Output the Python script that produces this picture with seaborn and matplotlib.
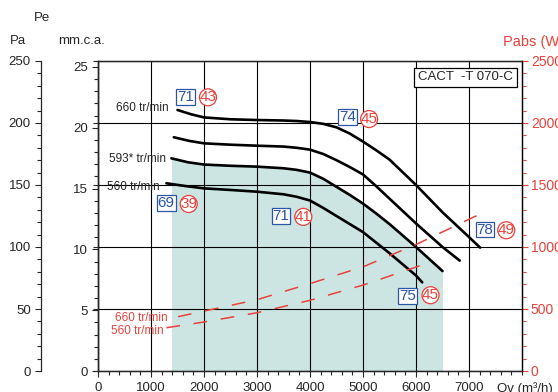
import pandas as pd
import matplotlib
matplotlib.use('Agg')
import matplotlib.pyplot as plt
from matplotlib.ticker import MultipleLocator
import seaborn as sns

# --- courbes débit / pression (Qv en m3/h, Pe en Pa) ---
qv_660 = [1500, 1760, 2000, 2500, 3000, 3500, 3750, 4000, 4250, 4500, 4750, 5000,
          5250, 5500, 6000, 6500, 7000, 7210]
pe_660 = [210.5, 207, 204.5, 203, 202.4, 202, 201.6, 200.8, 199.3, 196.5, 191.5, 185,
          178, 170.5, 150, 128, 108, 99.5]

qv_630 = [1430, 1730, 2000, 2500, 3000, 3500, 3750, 4000, 4250, 4500, 4750, 5000,
          5250, 5500, 6000, 6500, 6825]
pe_630 = [188.5, 185.5, 183.6, 182.5, 181.7, 181, 180, 178.5, 175, 170, 164.5, 158.5,
          149, 139, 119, 100, 89]

qv_593 = [1385, 1700, 2000, 2500, 3000, 3500, 3750, 4000, 4250, 4500, 4750, 5000,
          5250, 5500, 6000, 6500]
pe_593 = [171.5, 168.3, 166.5, 165.5, 164.8, 163.5, 162.2, 160, 155, 148.5, 142, 135,
          127, 118.5, 100, 80.6]

qv_560 = [1290, 1640, 2000, 2500, 3000, 3500, 3750, 4000, 4250, 4500, 4750, 5000,
          5250, 5500, 6000, 6117]
pe_560 = [151.4, 149.2, 147.3, 146, 144.6, 142.5, 140.5, 137.5, 131.5, 125, 118.5, 112,
          103.5, 95, 77, 71.5]

# --- puissance absorbée (W) ---
qv_w660 = [1510, 2000, 3000, 4000, 5000, 6000, 7210]
w_660 = [438, 483, 575, 705, 840, 1020, 1266]
qv_w560 = [1290, 2000, 3000, 4000, 5000, 6117]
w_560 = [349, 395, 470, 570, 693, 855]

# --- repères (dB(A) en carré bleu / puissance en cercle rouge) ---
box_labels = ['71', '74', '69', '71', '75', '78']
box_qv = [1652, 4707, 1286, 3455, 5835, 7301]
box_pe = [220.8, 204.8, 135.2, 124.8, 60.6, 114.1]
circ_labels = ['43', '45', '39', '41', '45', '49']
circ_qv = [2075, 5115, 1712, 3874, 6274, 7703]
circ_pe = [220.7, 203.2, 134.7, 124.3, 61.1, 113.5]

BLUE = '#2b55a5'
RED = '#e8423b'
TEAL = '#cce5e3'

sns.set_style('ticks')
plt.rcParams['font.family'] = ['Liberation Sans', 'DejaVu Sans']
plt.rcParams['axes.linewidth'] = 0.9

W, H = 558, 392
fig = plt.figure(figsize=(W / 100, H / 100), dpi=100)
ax = fig.add_axes([98 / W, 1 - 371 / H, (522 - 98) / W, (371 - 61) / H])

df = pd.concat([
    pd.DataFrame({'Qv': qv_660, 'Pe': pe_660, 'curve': '660'}),
    pd.DataFrame({'Qv': qv_630, 'Pe': pe_630, 'curve': '630'}),
    pd.DataFrame({'Qv': qv_593, 'Pe': pe_593, 'curve': '593'}),
    pd.DataFrame({'Qv': qv_560, 'Pe': pe_560, 'curve': '560'}),
])

# zone d'utilisation
ax.fill_between(qv_593, pe_593, 0, color=TEAL, lw=0, zorder=0.8)

sns.lineplot(data=df, x='Qv', y='Pe', hue='curve', palette=['black'] * 4,
             legend=False, sort=False, lw=1.9, ax=ax, zorder=3)
for ln in ax.lines:
    ln.set_solid_joinstyle('round')

ax.set_xlim(0, 8000)
ax.set_ylim(0, 250)
ax.set_xlabel('')
ax.set_ylabel('')
ax.set_xticks(range(0, 7001, 1000))
ax.xaxis.set_minor_locator(MultipleLocator(200))
ax.set_yticks(range(0, 251, 50))
ax.tick_params(axis='y', which='both', left=False, right=False, labelleft=False)
ax.tick_params(axis='x', which='major', length=4.3, width=0.8, pad=3.5, labelsize=9.5)
ax.tick_params(axis='x', which='minor', length=2.9, width=0.8)
ax.grid(True, which='major', color='black', lw=0.8)
ax.set_axisbelow('line')
for s in ax.spines.values():
    s.set_visible(True)
    s.set_color('black')

# axe mm.c.a.
sec_mm = ax.secondary_yaxis('left', functions=(lambda p: p / 9.81, lambda m: m * 9.81))
sec_mm.set_yticks(range(0, 26, 5))
sec_mm.yaxis.set_minor_locator(MultipleLocator(1))
sec_mm.tick_params(which='major', length=4.3, width=0.8, pad=3, labelsize=9.5)
sec_mm.tick_params(which='minor', length=2.9, width=0.8)

# axe Pa décalé
sec_pa = ax.secondary_yaxis(-(98 - 41) / (522 - 98))
sec_pa.set_yticks(range(0, 251, 50))
sec_pa.yaxis.set_minor_locator(MultipleLocator(10))
sec_pa.tick_params(which='major', length=4.3, width=0.8, pad=3, labelsize=9.5)
sec_pa.tick_params(which='minor', length=2.9, width=0.8)
sec_pa.spines['left'].set_linewidth(0.9)

# axe puissance (W)
ax_w = ax.twinx()
ax_w.set_ylim(0, 2500)
dfw = pd.concat([
    pd.DataFrame({'Qv': qv_w660, 'W': w_660, 'curve': '660'}),
    pd.DataFrame({'Qv': qv_w560, 'W': w_560, 'curve': '560'}),
])
sns.lineplot(data=dfw, x='Qv', y='W', hue='curve', palette=[RED, RED],
             legend=False, sort=False, lw=1.1, ax=ax_w, dashes=False)
for ln in ax_w.lines:
    ln.set_dashes((9, 9))
ax_w.set_ylabel('')
ax_w.set_yticks(range(0, 2501, 500))
ax_w.yaxis.set_minor_locator(MultipleLocator(100))
ax_w.tick_params(axis='y', which='major', colors=RED, length=4.3, width=0.8, pad=2, labelsize=10)
ax_w.tick_params(axis='y', which='minor', colors=RED, length=2.9, width=0.8)
ax_w.spines['right'].set_color('black')
ax_w.grid(False)

# libellés des courbes
ax_w.text(1336, 212, '660 tr/min', transform=ax.transData, ha='right', va='center', fontsize=8.5)
ax_w.text(1280, 170.7, '593* tr/min', transform=ax.transData, ha='right', va='center', fontsize=8.5)
ax_w.text(1167, 148.4, '560 tr/min', transform=ax.transData, ha='right', va='center', fontsize=8.5)
ax_w.text(1318, 42.7, '660 tr/min', transform=ax.transData, ha='right', va='center', fontsize=8.5, color=RED)
ax_w.text(1229, 32.3, '560 tr/min', transform=ax.transData, ha='right', va='center', fontsize=8.5, color=RED)

for lab, x, y in zip(box_labels, box_qv, box_pe):
    ax_w.text(x, y, lab, transform=ax.transData, ha='center', va='center', fontsize=11,
              color=BLUE, zorder=5,
              bbox=dict(boxstyle='square,pad=0.06', fc='white', ec=BLUE, lw=0.9))
for lab, x, y in zip(circ_labels, circ_qv, circ_pe):
    ax_w.text(x, y, lab, transform=ax.transData, ha='center', va='center', fontsize=11,
              color=RED, zorder=5,
              bbox=dict(boxstyle='circle,pad=0.0', fc='white', ec=RED, lw=0.9))

ax_w.text(6936, 236.7, 'CACT  -T 070-C', transform=ax.transData, ha='center', va='center',
          fontsize=9.5, zorder=5,
          bbox=dict(boxstyle='square,pad=0.3', fc='white', ec='black', lw=0.9))

# titres d'axes
fig.text(41.8 / W, 1 - 18 / H, 'Pe', ha='center', va='center', fontsize=9.5)
fig.text(18.3 / W, 1 - 40.5 / H, 'Pa', ha='center', va='center', fontsize=9.5)
fig.text(82 / W, 1 - 41 / H, 'mm.c.a.', ha='center', va='center', fontsize=9.5)
fig.text(503 / W, 1 - 42 / H, 'Pabs (W)', ha='left', va='center', fontsize=10.5, color=RED)
fig.text(497 / W, 1 - 382 / H, 'Qv (m³/h)', ha='left', va='top', fontsize=9.5)

fig.savefig('out.png', dpi=100)
